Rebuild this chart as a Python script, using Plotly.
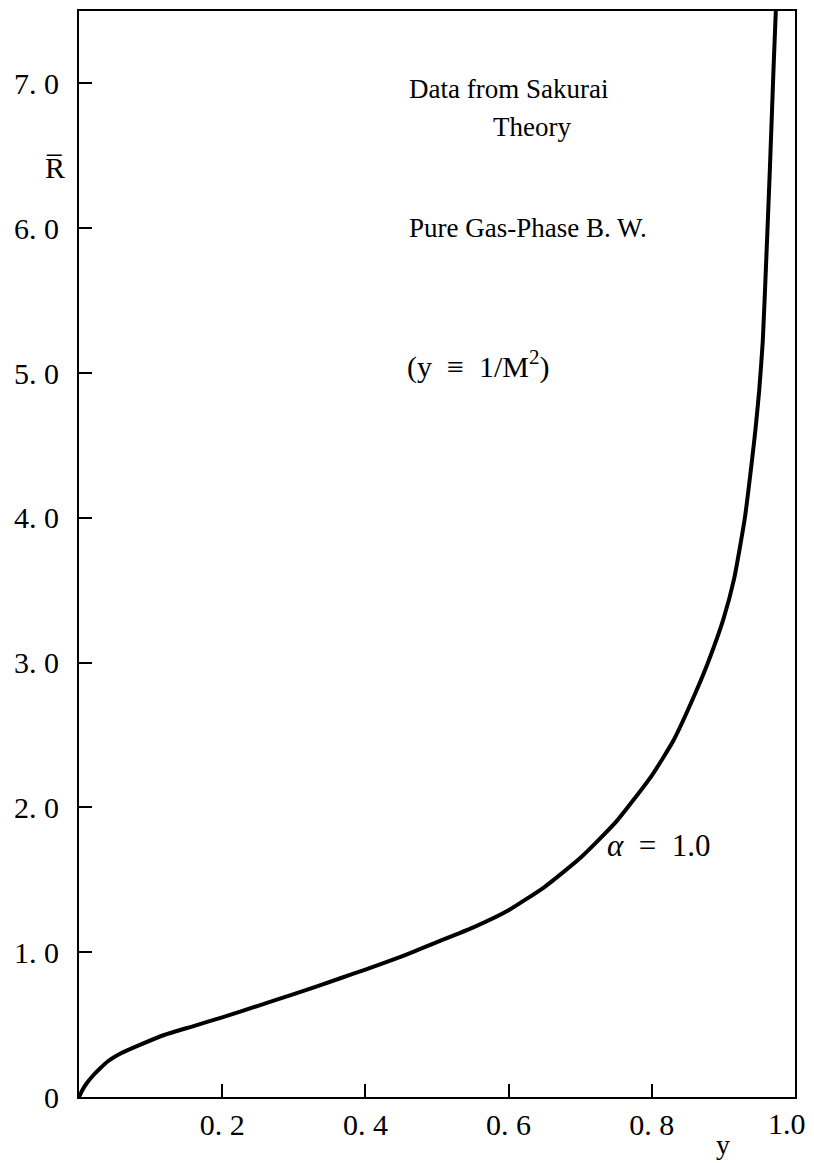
import plotly.graph_objects as go

# Mean reflection ratio R̄ against y = 1/M^2 (Sakurai theory, alpha = 1.0)
y_vals = [0, 0.005, 0.01, 0.02, 0.03, 0.04, 0.06, 0.085, 0.12, 0.16, 0.2,
          0.25, 0.3, 0.365, 0.4, 0.45, 0.5, 0.55, 0.6, 0.65, 0.7, 0.75, 0.8,
          0.83, 0.86, 0.88, 0.9, 0.915, 0.93, 0.94, 0.945, 0.95, 0.955, 0.96,
          0.965, 0.97, 0.974]
r_bar = [0, 0.05, 0.09, 0.15, 0.20, 0.245, 0.305, 0.36, 0.43, 0.49, 0.55,
         0.63, 0.71, 0.82, 0.88, 0.97, 1.07, 1.17, 1.29, 1.45, 1.65, 1.90, 2.22,
         2.46, 2.78, 3.02, 3.30, 3.58, 4.00, 4.40, 4.62, 4.88, 5.22, 5.80,
         6.42, 7.10, 7.60]

x_ticks = [0.2, 0.4, 0.6, 0.8, 1.0]
x_tick_text = ["0. 2", "0. 4", "0. 6", "0. 8", "1.0"]
y_ticks = [0, 1, 2, 3, 4, 5, 6, 7]
y_tick_text = ["0", "1. 0", "2. 0", "3. 0", "4. 0", "5. 0", "6. 0", "7. 0"]

FONT = "Liberation Serif"

fig = go.Figure()
fig.add_trace(go.Scatter(
    x=y_vals, y=r_bar, mode="lines",
    line=dict(color="black", width=4, shape="spline", smoothing=0.5),
    showlegend=False, hoverinfo="skip",
))

axis_common = dict(
    showline=True, linecolor="black", linewidth=2, mirror=True,
    showgrid=False, zeroline=False, ticks="inside", tickcolor="black",
    tickwidth=2, ticklen=13, automargin=False,
    tickfont=dict(family=FONT, size=30, color="black"),
)

# The label at the right end of the x axis sits against the frame, so it is
# drawn as a right-anchored annotation instead of a centred tick label.
fig.update_xaxes(range=[0, 1.0], tickvals=x_ticks,
                 ticktext=x_tick_text[:-1] + [""],
                 ticklabelstandoff=0, **axis_common)
fig.update_yaxes(range=[0, 7.5], tickvals=y_ticks, ticktext=y_tick_text,
                 ticklabelstandoff=12, **axis_common)
fig.add_annotation(xref="x", yref="paper", x=x_ticks[-1], y=-0.0245,
                   text=x_tick_text[-1], showarrow=False, xanchor="right",
                   yanchor="middle", xshift=13,
                   font=dict(family=FONT, size=30, color="black"))

notes = [
    dict(x=0.458, y=6.96, text="Data from Sakurai", xanchor="left", size=27),
    dict(x=0.633, y=6.70, text="Theory", xanchor="center", size=27),
    dict(x=0.458, y=6.00, text="Pure Gas-Phase B. W.", xanchor="left", size=27),
    dict(x=0.455, y=5.06,
         text="(y\u2002\u2261\u20021/M<sup>2</sup>)", xanchor="left", size=30),
    dict(x=0.735, y=1.74,
         text="<i>\u03b1</i>\u2002=\u20021.0", xanchor="left", size=31),
]
for n in notes:
    size = n.pop("size")
    fig.add_annotation(xref="x", yref="y", yanchor="middle", showarrow=False,
                       font=dict(family=FONT, size=size, color="black"), **n)

# Axis titles
fig.add_annotation(xref="paper", yref="paper", x=-0.017, y=0.856,
                   text="R\u0305", showarrow=False, xanchor="right",
                   yanchor="middle", font=dict(family=FONT, size=30, color="black"))
fig.add_annotation(xref="x", yref="paper", x=0.9, y=-0.044,
                   text="y", showarrow=False, xanchor="center",
                   yanchor="middle", font=dict(family=FONT, size=28, color="black"))

fig.update_layout(
    width=814, height=1163,
    margin=dict(l=79, r=19, t=11, b=66, autoexpand=False),
    paper_bgcolor="white", plot_bgcolor="white",
)

fig.write_html("out.html")
